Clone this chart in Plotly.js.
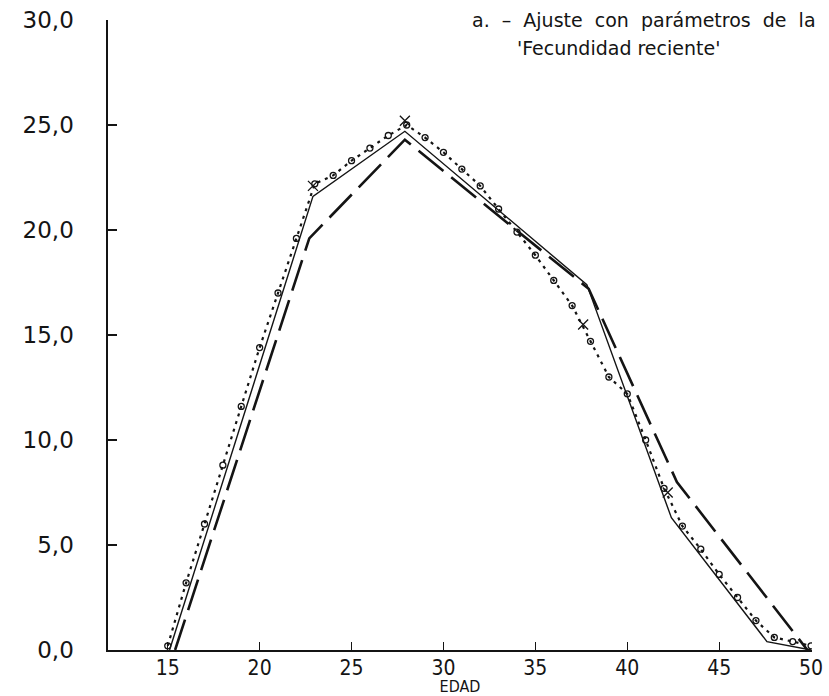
<!DOCTYPE html>
<html>
<head>
<meta charset="utf-8">
<script src="https://cdn.plot.ly/plotly-3.0.1.min.js"></script>
<style>
  html, body { margin: 0; padding: 0; background: #ffffff; }
  #chart { width: 829px; height: 696px; }
</style>
</head>
<body>
<div id="chart"></div>
<script>
// Fitted schedule (solid line): break points of the adjusted curve
const fitAges = [15.1, 22.9, 27.9, 37.8, 42.4, 47.6, 50.0];
const fitRates = [0.0, 21.6, 24.7, 17.4, 6.3, 0.4, 0.0];

// Alternative fit (long dashes)
const altAges = [15.4, 22.7, 27.9, 37.9, 42.7, 49.8];
const altRates = [0.0, 19.6, 24.3, 17.2, 8.0, 0.0];

// Observed rates by single year of age (small circles)
const obsAges = [15, 16, 17, 18, 19, 20, 21, 22, 23, 24, 25, 26, 27, 28, 29, 30, 31, 32,
                 33, 34, 35, 36, 37, 38, 39, 40, 41, 42, 43, 44, 45, 46, 47, 48, 49, 50];
const obsRates = [0.2, 3.2, 6.0, 8.8, 11.6, 14.4, 17.0, 19.6, 22.2, 22.6, 23.3, 23.9, 24.5, 25.0,
                  24.4, 23.7, 22.9, 22.1, 21.0, 19.9, 18.8, 17.6, 16.4, 14.7, 13.0, 12.2, 10.0,
                  7.7, 5.9, 4.8, 3.6, 2.5, 1.4, 0.6, 0.4, 0.2];

// Group points marked with crosses
const crossAges = [22.9, 27.9, 37.6, 42.2];
const crossRates = [22.1, 25.2, 15.5, 7.5];

// Axis ticks
const xTickVals = [15, 20, 25, 30, 35, 40, 45, 50];
const xTickText = ['15', '20', '25', '30', '35', '40', '45', '50'];
const yTickVals = [0, 5, 10, 15, 20, 25, 30];
const yTickText = ['0,0', '5,0', '10,0', '15,0', '20,0', '25,0', '30,0'];

const ink = '#141414';
const narrow = 'Liberation Sans Narrow, DejaVu Sans Condensed, sans-serif';
const nb = '\u00a0';

const traces = [
  {
    x: altAges, y: altRates, type: 'scatter', mode: 'lines',
    line: { color: ink, width: 2.6, dash: '32px,10px' },
    hoverinfo: 'skip', showlegend: false
  },
  {
    x: fitAges, y: fitRates, type: 'scatter', mode: 'lines',
    line: { color: ink, width: 1.4 },
    hoverinfo: 'skip', showlegend: false
  },
  {
    x: obsAges, y: obsRates, type: 'scatter', mode: 'lines+markers',
    line: { color: ink, width: 2.2, dash: '3px,5px' },
    marker: { symbol: 'circle-open', size: 6, color: ink, line: { color: ink, width: 1.3 } },
    hoverinfo: 'skip', showlegend: false
  },
  {
    x: crossAges, y: crossRates, type: 'scatter', mode: 'markers',
    marker: { symbol: 'x-thin-open', size: 10, color: ink, line: { color: ink, width: 1.3 } },
    hoverinfo: 'skip', showlegend: false
  }
];

const layout = {
  width: 829, height: 696,
  margin: { l: 108, r: 17, t: 20, b: 46 },
  paper_bgcolor: '#ffffff', plot_bgcolor: '#ffffff',
  showlegend: false,
  xaxis: {
    range: [11.75, 50.05],
    showline: true, linecolor: ink, linewidth: 1.6,
    showgrid: false, zeroline: false,
    ticks: 'inside', ticklen: 8, tickwidth: 1.3, tickcolor: ink,
    tickvals: xTickVals, ticktext: xTickText,
    ticklabelstandoff: -2,
    tickfont: { family: narrow, size: 21, color: ink },
    title: { text: 'EDAD', standoff: 5, font: { family: narrow, size: 16, color: ink } }
  },
  yaxis: {
    range: [0, 30],
    showline: true, linecolor: ink, linewidth: 1.6,
    showgrid: false, zeroline: false,
    ticks: 'inside', ticklen: 9, tickwidth: 1.3, tickcolor: ink,
    tickvals: yTickVals, ticktext: yTickText,
    ticklabelstandoff: 28,
    tickfont: { family: 'DejaVu Sans, sans-serif', size: 23, color: ink }
  },
  annotations: [
    {
      text: 'a.' + nb + nb + '–' + nb + nb + 'Ajuste' + nb + nb + 'con' + nb + nb + 'parámetros' + nb + nb + 'de' + nb + nb + 'la',
      xref: 'paper', yref: 'paper', x: 0.514, y: 1.0,
      xanchor: 'left', yanchor: 'middle', showarrow: false,
      font: { family: 'DejaVu Sans, sans-serif', size: 19, color: ink }
    },
    {
      text: "'Fecundidad reciente'",
      xref: 'paper', yref: 'paper', x: 0.578, y: 0.956,
      xanchor: 'left', yanchor: 'middle', showarrow: false,
      font: { family: 'DejaVu Sans, sans-serif', size: 19, color: ink }
    }
  ]
};

Plotly.newPlot('chart', traces, layout, { displayModeBar: false, staticPlot: true });
</script>
</body>
</html>
